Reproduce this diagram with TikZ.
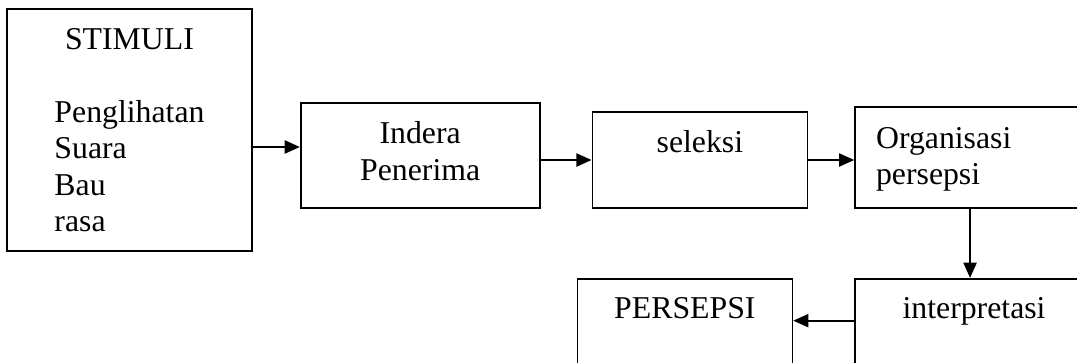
\documentclass[tikz,border=0pt]{standalone}
\usepackage{fontspec}
\setmainfont{Liberation Serif}
\usetikzlibrary{positioning,arrows.meta}
\tikzset{
  stepbox/.style={rectangle, draw, line width=1.2pt, inner ysep=0pt, font=\fontsize{22.6}{26}\selectfont},
  fwd/.style={-{Triangle[length=0.38cm, width=0.33cm]}, line width=1.2pt},
}
\begin{document}
\begin{tikzpicture}
  \useasboundingbox (0,0) rectangle (26.925,-9.05);
  \clip (0,0) rectangle (26.925,-9.05);

  \node[stepbox, align=center, minimum width=6.125cm, text height=2.825cm, text depth=3.225cm] (stimuli) at (3.2375,-3.25)
    {STIMULI\\[0.9cm]\begin{tabular}[t]{@{}l@{}}Penglihatan\\Suara\\Bau\\rasa\end{tabular}};
  \node[stepbox, align=center, minimum width=5.975cm, text height=1.925cm, text depth=0.7cm] (indera) [right=1.175cm of stimuli, yshift=-0.6375cm] {Indera\\Penerima};
  \node[stepbox, minimum width=5.375cm, text height=1.0cm, text depth=1.4cm] (seleksi) [right=1.275cm of indera, yshift=-0.1125cm] {seleksi};
  \node[stepbox, align=left, text width=4.9cm, inner xsep=0.525cm, text height=1.025cm, text depth=1.5cm] (organisasi) [right=1.15cm of seleksi, yshift=0.0625cm] {Organisasi\\persepsi};
  \node[stepbox, minimum width=5.95cm, text height=1.0cm, text depth=1.575cm] (interpretasi) [below=1.725cm of organisasi] {interpretasi};
  \node[stepbox, minimum width=5.375cm, text height=1.0cm, text depth=1.575cm] (persepsi) [left=1.525cm of interpretasi] {PERSEPSI};

  \draw[fwd] ([yshift=0.2125cm]indera.west -| stimuli.east) -- ([yshift=0.2125cm]indera.west);
  \draw[fwd] (indera.east |- seleksi.west) -- (seleksi.west);
  \draw[fwd] (seleksi.east) -- (seleksi.east -| organisasi.west);
  \draw[fwd] ([xshift=-0.1cm]organisasi.south) -- ([xshift=-0.1cm]interpretasi.north);
  \draw[fwd] ([yshift=0.2375cm]interpretasi.west) -- ([yshift=0.2375cm]interpretasi.west -| persepsi.east);
\end{tikzpicture}
\end{document}
